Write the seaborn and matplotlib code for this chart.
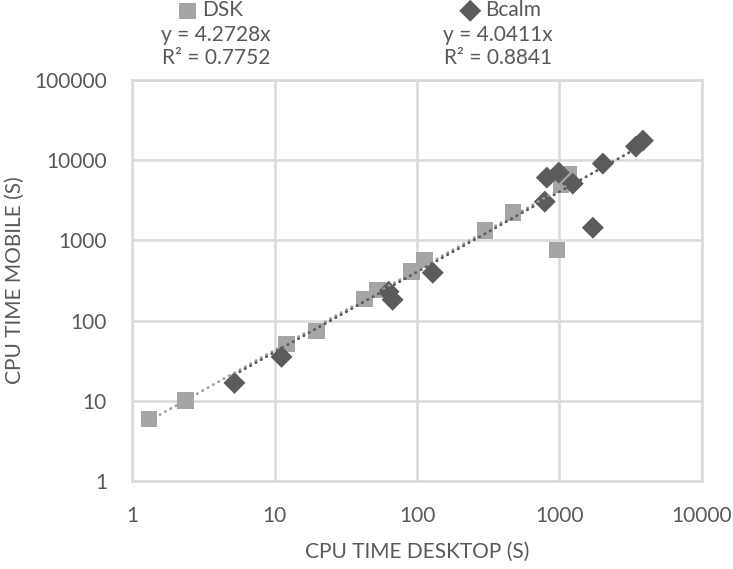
import numpy as np
import pandas as pd
import matplotlib
matplotlib.use('Agg')
import matplotlib.pyplot as plt
import seaborn as sns

# Values (CPU time in seconds)
dsk_desktop = [1.32, 2.38, 12.1, 19.7, 42.8, 52.9, 91.6, 113, 299, 470, 1021, 1162, 957]
dsk_mobile = [5.94, 10.1, 51, 74.6, 187, 242, 407, 574, 1322, 2218, 4958, 6610, 765]
bcalm_desktop = [5.23, 11.2, 63.2, 67.4, 129, 788, 815, 988, 1239, 2014, 3437, 3848, 1714]
bcalm_mobile = [16.7, 35.3, 229, 182, 395, 3041, 6066, 7000, 5105, 9074, 14790, 17570, 1441]

# Trendline coefficients (y = a*x) and R^2 from the chart
dsk_slope, dsk_r2 = 4.2728, 0.7752
bcalm_slope, bcalm_r2 = 4.0411, 0.8841

x_ticks = [1, 10, 100, 1000, 10000]
y_ticks = [1, 10, 100, 1000, 10000, 100000]

sns.set_style('white')
plt.rcParams['font.family'] = ['Lato', 'DejaVu Sans']

text_col = '#595959'
grid_col = '#d9d9d9'
dsk_col = '#a5a5a5'
bcalm_col = '#5b5b5b'

dsk = pd.DataFrame({'desktop': dsk_desktop, 'mobile': dsk_mobile})
bcalm = pd.DataFrame({'desktop': bcalm_desktop, 'mobile': bcalm_mobile})

fig = plt.figure(figsize=(7.33, 5.69), dpi=100)
ax = fig.add_axes([0.1801, 0.1547, 0.7776, 0.7047])
ax.set_xscale('log')
ax.set_yscale('log')

# Markers
sns.scatterplot(data=dsk, x='desktop', y='mobile', ax=ax, marker='s', s=140,
                color=dsk_col, edgecolor='none', label='DSK', zorder=3)
sns.scatterplot(data=bcalm, x='desktop', y='mobile', ax=ax, marker='D', s=125,
                color=bcalm_col, edgecolor='none', label='Bcalm', zorder=4)

# Trendlines through origin (straight on log-log)
dsk_tx = np.array([min(dsk_desktop), max(dsk_desktop)])
bcalm_tx = np.array([min(bcalm_desktop), max(bcalm_desktop)])
dotted = dict(lw=2, linestyle=(0, (0.2, 2.0)), dash_capstyle='round')
sns.lineplot(x=dsk_tx, y=dsk_slope * dsk_tx, ax=ax, color=dsk_col, zorder=5, **dotted)
sns.lineplot(x=bcalm_tx, y=bcalm_slope * bcalm_tx, ax=ax, color=bcalm_col, zorder=6, **dotted)

ax.set_xlim(1, 10000)
ax.set_ylim(1, 100000)
ax.set_xticks(x_ticks)
ax.set_xticklabels([str(t) for t in x_ticks])
ax.set_yticks(y_ticks)
ax.set_yticklabels([str(t) for t in y_ticks])
ax.minorticks_off()
ax.tick_params(axis='both', length=0, labelsize=15, colors=text_col, pad=18)

ax.grid(True, color=grid_col, lw=1.8)
ax.set_axisbelow(True)
for sp in ax.spines.values():
    sp.set_color(grid_col)
    sp.set_linewidth(1.8)

ax.set_xlabel('CPU TIME DESKTOP (S)', fontsize=15, color=text_col)
ax.set_ylabel('CPU TIME MOBILE (S)', fontsize=15, color=text_col)
ax.xaxis.set_label_coords(0.5, -0.152)
ax.yaxis.set_label_coords(-0.188, 0.5)

# Legend entries with trendline labels, placed above the plot
handles, labels = ax.get_legend_handles_labels()
if ax.legend_:
    ax.legend_.remove()
leg_kw = dict(loc='center', frameon=False, fontsize=15, labelcolor=text_col,
              handletextpad=0.3, borderpad=0, handlelength=0.8)
fig.legend([handles[0]], [labels[0]], bbox_to_anchor=(0.288, 0.982), **leg_kw)
fig.legend([handles[1]], [labels[1]], bbox_to_anchor=(0.684, 0.982), **leg_kw)

fig.text(0.295, 0.938, f'y = {dsk_slope}x', ha='center', va='center',
         fontsize=15, color=text_col)
fig.text(0.295, 0.898, f'R² = {dsk_r2}', ha='center', va='center',
         fontsize=15, color=text_col)
fig.text(0.679, 0.938, f'y = {bcalm_slope}x', ha='center', va='center',
         fontsize=15, color=text_col)
fig.text(0.679, 0.898, f'R² = {bcalm_r2}', ha='center', va='center',
         fontsize=15, color=text_col)

fig.savefig('out.png', dpi=100)
